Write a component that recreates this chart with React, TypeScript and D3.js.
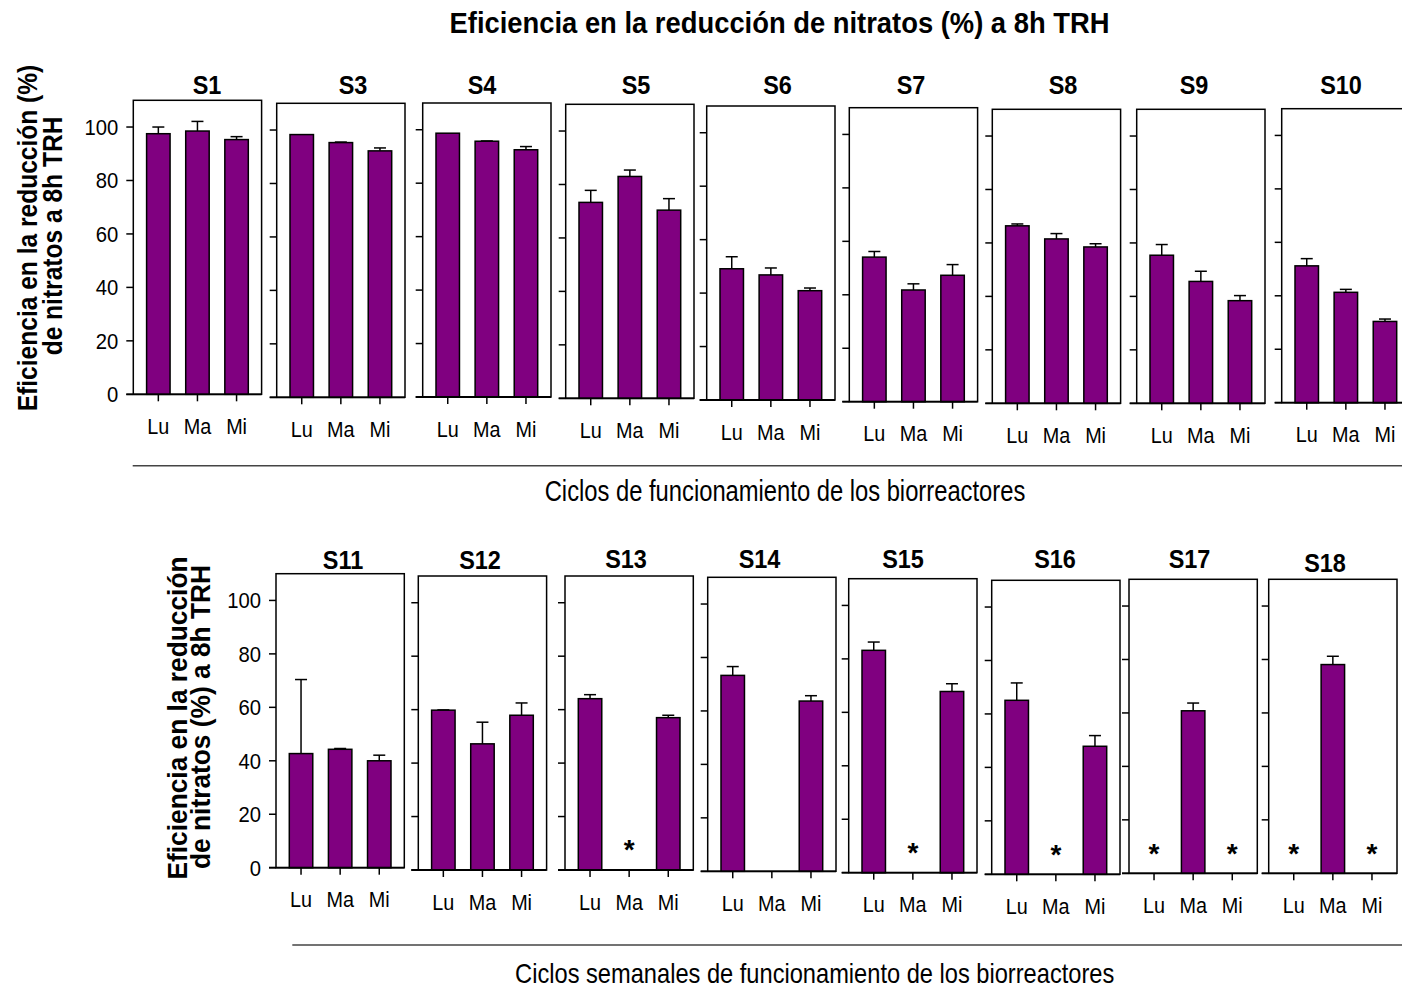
import React from "react";
import * as d3 from "d3";

// ---------- data ----------
const days = ["Lu", "Ma", "Mi"];
const yTicks = [0, 20, 40, 60, 80, 100];

const topSessions = ["S1", "S3", "S4", "S5", "S6", "S7", "S8", "S9", "S10"];
const topLu = [97.5, 98.3, 98.7, 73.3, 49.1, 54.1, 66.4, 55.4, 51.2];
const topMa = [98.5, 95.3, 95.7, 83.0, 46.8, 41.8, 61.5, 45.6, 41.3];
const topMi = [95.3, 92.2, 92.5, 70.4, 40.9, 47.3, 58.5, 38.4, 30.4];
const topLuErr = [2.5, 0, 0, 4.5, 4.5, 2.1, 0.7, 4.0, 2.7];
const topMaErr = [3.6, 0.2, 0.1, 2.4, 2.6, 2.3, 2.0, 3.8, 1.1];
const topMiErr = [1.1, 1.1, 1.2, 4.3, 1.0, 4.0, 1.2, 1.9, 0.9];

const bottomSessions = ["S11", "S12", "S13", "S14", "S15", "S16", "S17", "S18"];
// "*" = asterisk (no measurement), null = nothing drawn
const bottomLu: (number | string | null)[] = [42.7, 59.8, 64.1, 73.3, 83.2, 65.1, "*", "*"];
const bottomMa: (number | string | null)[] = [44.3, 47.2, "*", null, "*", "*", 60.8, 78.1];
const bottomMi: (number | string | null)[] = [40.0, 57.9, 57.0, 63.7, 67.8, 47.9, "*", "*"];
const bottomLuErr = [27.7, 0.1, 1.5, 3.3, 3.1, 6.5, 0, 0];
const bottomMaErr = [0.3, 8.1, 0, 0, 0, 0, 2.9, 3.1];
const bottomMiErr = [2.1, 4.6, 0.9, 2.0, 2.9, 4.0, 0, 0];

const mainTitle = "Eficiencia en la reducción de nitratos (%) a 8h TRH";
const topXTitle = "Ciclos de funcionamiento de los biorreactores";
const bottomXTitle = "Ciclos semanales de funcionamiento de los biorreactores";
const topYTitle = ["Eficiencia en la reducción (%)", "de nitratos a 8h TRH"];
const bottomYTitle = ["Eficiencia en la reducción", "de nitratos (%) a 8h TRH"];

// ---------- layout ----------
const PANEL_W = 128.3;
const PANEL_H = 294;
const Y_MAX = 110;
const topLefts = [133.3, 276.7, 422.7, 565.7, 706.7, 849.3, 992.3, 1136.7, 1281.7];
const topBases = [394.3, 397.3, 397, 398.3, 400, 401.7, 403.3, 403.3, 402.7];
const topTitleX = [207, 353, 482, 636, 777.5, 911, 1063, 1194, 1341];
const topTitleY = [93.5, 93.5, 93.5, 93.5, 93.5, 93.5, 94, 94, 94];
const bottomLefts = [276, 418.3, 565, 707.7, 848.7, 991.7, 1129, 1268.7];
const bottomBases = [867.7, 870, 870, 871.3, 872.7, 874.3, 873.3, 873.3];
const bottomTitleX = [343, 480, 626, 759.5, 903, 1055, 1189.5, 1325];
const bottomTitleY = [569, 569, 568, 568, 568, 567.5, 567.5, 572];

const FONT = "'Liberation Sans', Arial, Helvetica, sans-serif";
const PURPLE = "#800080";

function Txt(props: {
  x: number; y: number; sx?: number; size: number; bold?: boolean;
  anchor?: string; rotate?: number; children: React.ReactNode;
}) {
  const { x, y, sx = 1, size, bold, anchor = "middle", rotate, children } = props;
  const tr = `translate(${x},${y})${rotate ? ` rotate(${rotate})` : ""} scale(${sx},1)`;
  return (
    <text transform={tr} fontFamily={FONT} fontSize={size} fontWeight={bold ? "bold" : "normal"}
      textAnchor={anchor} fill="#000">
      {children}
    </text>
  );
}

function Panel(props: {
  title: string; left: number; base: number; titleX: number; titleY: number;
  values: (number | string | null)[]; errs: number[]; showY: boolean;
}) {
  const { title, left, base, titleX, titleY, values, errs, showY } = props;
  const y = d3.scaleLinear().domain([0, Y_MAX]).range([base, base - PANEL_H]);
  const x = d3.scaleBand<string>().domain(days).range([left, left + PANEL_W])
    .paddingInner(0.4).paddingOuter(0.34);
  const bw = x.bandwidth();
  const top = y(Y_MAX);
  return (
    <g>
      <Txt x={titleX} y={titleY} size={25.5} sx={0.92} bold>{title}</Txt>
      <rect x={left} y={top} width={PANEL_W} height={base - top} fill="#fff" stroke="#000" strokeWidth={1.5} />
      {values.map((v, i) => {
        const cx = (x(days[i]) as number) + bw / 2;
        if (typeof v === "number") {
          const e = errs[i];
          return (
            <g key={i}>
              {e > 0.05 && (
                <g stroke="#000" strokeWidth={1.5}>
                  <line x1={cx} x2={cx} y1={y(v)} y2={y(v + e)} />
                  <line x1={cx - 6} x2={cx + 6} y1={y(v + e)} y2={y(v + e)} />
                </g>
              )}
              <rect x={x(days[i])} y={y(v)} width={bw} height={base - y(v)} fill={PURPLE}
                stroke="#000" strokeWidth={1.5} />
            </g>
          );
        }
        if (v === "*") {
          return <Txt key={i} x={cx} y={y(10) + 16} size={28} bold>*</Txt>;
        }
        return null;
      })}
      {yTicks.map((t) => (
        <line key={t} x1={left - 7} x2={left} y1={y(t)} y2={y(t)} stroke="#000" strokeWidth={1.5} />
      ))}
      <line x1={left - 7} x2={left + PANEL_W} y1={base} y2={base} stroke="#000" strokeWidth={1.8} />
      {showY && yTicks.map((t) => (
        <Txt key={"l" + t} x={left - 15} y={y(t) + 8} size={22.5} sx={0.9} anchor="end">{String(t)}</Txt>
      ))}
      {days.map((d) => {
        const cx = (x(d) as number) + bw / 2;
        return (
          <g key={d}>
            <line x1={cx} x2={cx} y1={base} y2={base + 7} stroke="#000" strokeWidth={1.5} />
            <Txt x={cx} y={base + 39.5} size={22.5} sx={0.88}>{d}</Txt>
          </g>
        );
      })}
    </g>
  );
}

export default function App() {
  const topVals = topSessions.map((_, i) => [topLu[i], topMa[i], topMi[i]]);
  const topErrs = topSessions.map((_, i) => [topLuErr[i], topMaErr[i], topMiErr[i]]);
  const botVals = bottomSessions.map((_, i) => [bottomLu[i], bottomMa[i], bottomMi[i]]);
  const botErrs = bottomSessions.map((_, i) => [bottomLuErr[i], bottomMaErr[i], bottomMiErr[i]]);
  return (
    <svg width={1402} height={989} style={{ position: "absolute", left: 0, top: 0, background: "#fff" }}>
      <rect x={0} y={0} width={1402} height={989} fill="#fff" />
      <Txt x={779.5} y={33.3} size={29} sx={0.944} bold>{mainTitle}</Txt>

      <Txt x={37} y={238} size={28} sx={0.877} bold rotate={-90}>{topYTitle[0]}</Txt>
      <Txt x={61.5} y={236} size={28} sx={0.877} bold rotate={-90}>{topYTitle[1]}</Txt>

      {topSessions.map((s, i) => (
        <Panel key={s} title={s} left={topLefts[i]} base={topBases[i]} titleX={topTitleX[i]}
          titleY={topTitleY[i]} values={topVals[i]} errs={topErrs[i]} showY={i === 0} />
      ))}

      <line x1={132.7} x2={1402} y1={465.7} y2={465.7} stroke="#444" strokeWidth={1.4} />
      <Txt x={785} y={501} size={28.8} sx={0.825}>{topXTitle}</Txt>

      <Txt x={186.7} y={718} size={28} sx={0.94} bold rotate={-90}>{bottomYTitle[0]}</Txt>
      <Txt x={210} y={717} size={28} sx={0.94} bold rotate={-90}>{bottomYTitle[1]}</Txt>

      {bottomSessions.map((s, i) => (
        <Panel key={s} title={s} left={bottomLefts[i]} base={bottomBases[i]} titleX={bottomTitleX[i]}
          titleY={bottomTitleY[i]} values={botVals[i]} errs={botErrs[i]} showY={i === 0} />
      ))}

      <line x1={292.3} x2={1402} y1={945} y2={945} stroke="#444" strokeWidth={1.4} />
      <Txt x={814.7} y={983} size={28.5} sx={0.83}>{bottomXTitle}</Txt>
    </svg>
  );
}
